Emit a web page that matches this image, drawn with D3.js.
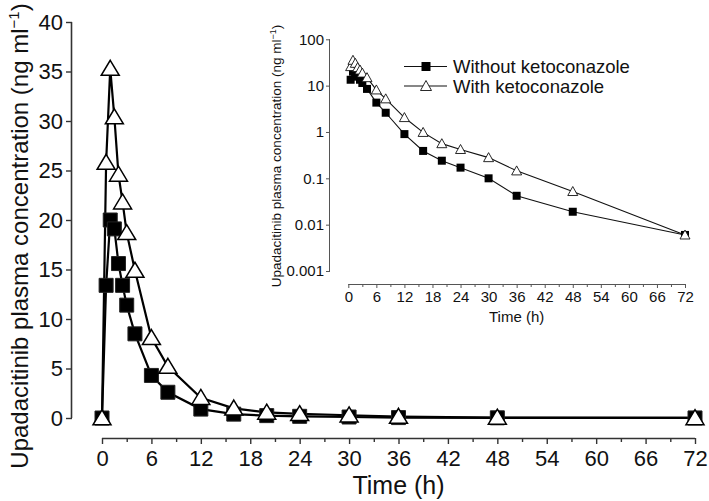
<!DOCTYPE html>
<html>
<head>
<meta charset="utf-8">
<script src="https://cdn.jsdelivr.net/npm/d3@7"></script>
<style>
  body { margin: 0; background: #fff; }
  svg text { font-family: "Liberation Sans", Arial, sans-serif; fill: #111; }
</style>
</head>
<body>
<div id="chart"></div>
<script>
// sampling times (h)
const times = [0, 0.5, 1, 1.5, 2, 2.5, 3, 4, 6, 8, 12, 16, 20, 24, 30, 36, 48, 72];
// mean plasma concentration (ng/ml)
const withoutKeto = [0, 13.4, 20.0, 19.1, 15.6, 13.4, 11.4, 8.5, 4.3, 2.6, 0.9, 0.39, 0.24, 0.17, 0.10, 0.042, 0.019, 0.006];
const withKeto = [0, 25.8, 35.3, 30.4, 24.6, 21.8, 18.7, 14.9, 8.1, 5.2, 2.05, 0.98, 0.56, 0.42, 0.28, 0.145, 0.052, 0.006];
const seriesNames = ['Without ketoconazole', 'With ketoconazole'];
const yTicksLinear = [0, 5, 10, 15, 20, 25, 30, 35, 40];
const yTicksLog = [0.001, 0.01, 0.1, 1, 10, 100];
const xTicks = d3.range(0, 73, 3);

const width = 709;
const height = 501;

const svg = d3.select('#chart')
  .append('svg')
  .attr('width', width)
  .attr('height', height);

const square = s => `M${-s / 2},${-s / 2}h${s}v${s}h${-s}Z`;
const triangle = (w, h) => `M0,${-h * 0.55}L${w / 2},${h * 0.45}L${-w / 2},${h * 0.45}Z`;

// ---------- main linear chart ----------
const x = d3.scaleLinear().domain([0, 72]).range([102, 695]);
const y = d3.scaleLinear().domain([0, 40]).range([418, 22]);

const xAxis = svg.append('g')
  .attr('transform', 'translate(0,438)')
  .call(d3.axisBottom(x).tickValues(xTicks).tickSize(6).tickPadding(6)
    .tickFormat(d => (d % 6 === 0 ? d : '')));
xAxis.selectAll('.tick line').attr('y2', d => (d % 6 === 0 ? 6 : 4));

const yAxis = svg.append('g')
  .attr('transform', 'translate(72,0)')
  .call(d3.axisLeft(y).tickValues(yTicksLinear).tickSize(6).tickPadding(3));

[xAxis, yAxis].forEach(a => {
  a.select('.domain').attr('stroke', '#333').attr('stroke-width', 1.6);
  a.selectAll('.tick line').attr('stroke', '#333').attr('stroke-width', 1.4);
  a.selectAll('.tick text').style('font-size', '22px');
});
yAxis.select('.domain').attr('d', `M-0.5,${y(40)}V${y(0)}`);
xAxis.select('.domain').attr('d', `M${x(0)},0.5H${x(72)}`);

svg.append('text')
  .attr('x', x(36))
  .attr('y', 494)
  .attr('text-anchor', 'middle')
  .style('font-size', '25px')
  .text('Time (h)');

const yTitle = svg.append('text')
  .attr('transform', 'translate(28,236) rotate(-90)')
  .attr('text-anchor', 'middle')
  .style('font-size', '24px');
yTitle.append('tspan').text('Upadacitinib plasma concentration (ng ml');
yTitle.append('tspan').attr('dy', -9).style('font-size', '15px').text('−1');
yTitle.append('tspan').attr('dy', 9).text(')');

const mainLine = vals => d3.line()
  .x((d, i) => x(times[i]))
  .y(d => y(d))(vals);

svg.append('path').attr('d', mainLine(withoutKeto))
  .attr('fill', 'none').attr('stroke', '#000').attr('stroke-width', 2.2);
svg.append('path').attr('d', mainLine(withKeto))
  .attr('fill', 'none').attr('stroke', '#000').attr('stroke-width', 2.2);

svg.append('g').selectAll('path')
  .data(withoutKeto)
  .enter()
  .append('path')
  .attr('transform', (d, i) => `translate(${x(times[i])},${y(d)})`)
  .attr('d', square(14))
  .attr('fill', '#000')
  .attr('stroke', '#222')
  .attr('stroke-width', 1);

svg.append('g').selectAll('path')
  .data(withKeto)
  .enter()
  .append('path')
  .attr('transform', (d, i) => `translate(${x(times[i])},${y(d)})`)
  .attr('d', triangle(18, 15))
  .attr('fill', '#fff')
  .attr('stroke', '#000')
  .attr('stroke-width', 1.5);

// ---------- inset log chart ----------
const xi = d3.scaleLinear().domain([0, 72]).range([348.3, 685]);
const yi = d3.scaleLog().domain([0.001, 100]).range([271, 39.3]);

const xiAxis = svg.append('g')
  .attr('transform', 'translate(0,284)')
  .call(d3.axisBottom(xi).tickValues(xTicks).tickSize(4).tickPadding(3)
    .tickFormat(d => (d % 6 === 0 ? d : '')));
xiAxis.selectAll('.tick line').attr('y2', d => (d % 6 === 0 ? 4 : 3));

const yiAxis = svg.append('g')
  .attr('transform', 'translate(330,0)')
  .call(d3.axisLeft(yi).tickValues(yTicksLog).tickSize(4).tickPadding(2)
    .tickFormat(d => String(d)));

[xiAxis, yiAxis].forEach(a => {
  a.select('.domain').attr('stroke', '#555').attr('stroke-width', 1);
  a.selectAll('.tick line').attr('stroke', '#555');
  a.selectAll('.tick text').style('font-size', '15px');
});
yiAxis.select('.domain').attr('d', `M-0.5,${yi(100)}V${yi(0.001)}`);
xiAxis.select('.domain').attr('d', `M${xi(0)},0.5H${xi(72)}`);

svg.append('text')
  .attr('x', xi(36))
  .attr('y', 322)
  .attr('text-anchor', 'middle')
  .style('font-size', '15px')
  .text('Time (h)');

const yiTitle = svg.append('text')
  .attr('transform', 'translate(281,156) rotate(-90)')
  .attr('text-anchor', 'middle')
  .style('font-size', '13.5px');
yiTitle.append('tspan').text('Upadacitinib plasma concentration (ng ml');
yiTitle.append('tspan').attr('dy', -5).style('font-size', '9px').text('−1');
yiTitle.append('tspan').attr('dy', 5).text(')');

const insetLine = vals => d3.line()
  .defined(d => d > 0)
  .x((d, i) => xi(times[i]))
  .y(d => yi(d))(vals);

svg.append('path').attr('d', insetLine(withoutKeto))
  .attr('fill', 'none').attr('stroke', '#111').attr('stroke-width', 1.1);
svg.append('path').attr('d', insetLine(withKeto))
  .attr('fill', 'none').attr('stroke', '#111').attr('stroke-width', 1.1);

const posWithout = withoutKeto.map((d, i) => [times[i], d]).filter(p => p[1] > 0);
const posWith = withKeto.map((d, i) => [times[i], d]).filter(p => p[1] > 0);

svg.append('g').selectAll('path')
  .data(posWithout)
  .enter()
  .append('path')
  .attr('transform', d => `translate(${xi(d[0])},${yi(d[1])})`)
  .attr('d', square(8))
  .attr('fill', '#000');

svg.append('g').selectAll('path')
  .data(posWith)
  .enter()
  .append('path')
  .attr('transform', d => `translate(${xi(d[0])},${yi(d[1])})`)
  .attr('d', triangle(10, 9))
  .attr('fill', '#fff')
  .attr('stroke', '#111')
  .attr('stroke-width', 0.9);

// legend
const legend = svg.append('g');
const legendY = [66.5, 86];
seriesNames.forEach((name, i) => {
  const g = legend.append('g').attr('transform', `translate(0,${legendY[i]})`);
  g.append('line')
    .attr('x1', 404).attr('x2', 447)
    .attr('stroke', '#111').attr('stroke-width', 1.1);
  g.append('path')
    .attr('transform', 'translate(426,0)')
    .attr('d', i === 0 ? square(9) : triangle(11, 10))
    .attr('fill', i === 0 ? '#000' : '#fff')
    .attr('stroke', '#111')
    .attr('stroke-width', i === 0 ? 0 : 0.9);
  g.append('text')
    .attr('x', 453)
    .attr('y', 6.5)
    .style('font-size', '18.5px')
    .text(name);
});
</script>
</body>
</html>
